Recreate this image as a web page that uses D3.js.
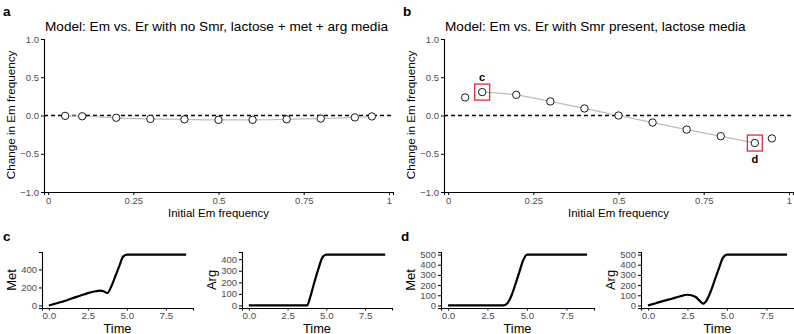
<!DOCTYPE html>
<html>
<head>
<meta charset="utf-8">
<script src="https://cdn.jsdelivr.net/npm/d3@7"></script>
<style>
  body { margin: 0; background: #fff; }
  svg { display: block; font-family: "Liberation Sans", Arial, sans-serif; }
  .tick text { fill: #4d4d4d; }
  .domain, .tick line { stroke: #000; }
</style>
</head>
<body>
<svg id="fig" width="794" height="334"></svg>
<script>
// top panels: change in Em frequency vs initial frequency
var freqs = [0.05, 0.1, 0.2, 0.3, 0.4, 0.5, 0.6, 0.7, 0.8, 0.9, 0.95];
var changeA = [-0.005, -0.01, -0.03, -0.045, -0.05, -0.057, -0.057, -0.05, -0.04, -0.025, -0.012];
var changeB = [0.236, 0.306, 0.27, 0.184, 0.092, 0.0, -0.092, -0.184, -0.27, -0.36, -0.30];
var xTicksTop = [0, 0.25, 0.5, 0.75, 1];
var xTickLabelsTop = ["0", "0.25", "0.5", "0.75", "1"];
var yTicksTop = [1, 0.5, 0, -0.5, -1];
var yTickLabelsTop = ["1.0", "0.5", "0.0", "\u22120.5", "\u22121.0"];
var highlighted = [{x: 0.1, label: "c", side: "top"}, {x: 0.9, label: "d", side: "bottom"}];

// bottom panels: metabolite time courses
var timeC = [0, 0.5, 1, 1.5, 2, 2.5, 3, 3.3, 3.5, 3.75, 4, 4.25, 4.5, 4.75, 5, 6, 7, 8, 8.8];
var metC  = [0, 25, 50, 80, 108, 137, 158, 165, 158, 138, 210, 320, 430, 540, 565, 565, 565, 565, 565];
var argC  = [0, 0, 0, 0, 0, 0, 0, 0, 0, 0, 90, 210, 320, 415, 440, 440, 440, 440, 440];
var timeD = [0, 0.5, 1, 1.5, 2, 2.5, 3, 3.25, 3.5, 3.75, 4, 4.25, 4.5, 4.75, 5, 6, 7, 8, 8.8];
var metD  = [0, 0, 0, 0, 0, 0, 0, 0, 0, 20, 90, 200, 320, 440, 500, 500, 500, 500, 500];
var argD  = [0, 22, 45, 66, 88, 105, 85, 50, 18, 60, 150, 260, 370, 470, 500, 500, 500, 500, 500];
var timeTicks = [0, 2.5, 5, 7.5];

var svg = d3.select("#fig");

function topPanel(left, right, title, letter, ys, lineFrom, lineTo, boxes) {
  var g = svg.append("g");
  var x = d3.scaleLinear().domain([-0.012, 1.012]).range([left, right]);
  var y = d3.scaleLinear().domain([-1, 1]).range([192, 39]);

  g.append("text").attr("x", left - 41).attr("y", 16)
    .attr("font-size", 13.5).attr("font-weight", "bold").text(letter);
  g.append("text").attr("x", left + 1).attr("y", 31)
    .attr("font-size", 13.6).attr("fill", "#000").text(title);

  // dashed zero line
  g.append("line").attr("x1", x.range()[0]).attr("x2", x.range()[1])
    .attr("y1", y(0)).attr("y2", y(0))
    .attr("stroke", "#000").attr("stroke-width", 1.3).attr("stroke-dasharray", "4,3");

  var pts = freqs.map(function(f, i){ return {x: f, y: ys[i]}; });
  var linePts = pts.filter(function(d){ return d.x >= lineFrom && d.x <= lineTo; });
  var line = d3.line().curve(d3.curveMonotoneX)
    .x(function(d){ return x(d.x); }).y(function(d){ return y(d.y); });
  g.append("path").attr("d", line(linePts)).attr("fill", "none")
    .attr("stroke", "#bdbdbd").attr("stroke-width", 1.2);

  g.selectAll("circle").data(pts).enter().append("circle")
    .attr("cx", function(d){ return x(d.x); }).attr("cy", function(d){ return y(d.y); })
    .attr("r", 3.7).attr("fill", "#fff").attr("stroke", "#000").attr("stroke-width", 0.9);

  boxes.forEach(function(b){
    var i = freqs.indexOf(b.x);
    var cx = x(b.x), cy = y(ys[i]);
    g.append("rect").attr("x", cx - 7.5).attr("y", cy - 8).attr("width", 15).attr("height", 16)
      .attr("fill", "none").attr("stroke", "#e8283a").attr("stroke-width", 1.3);
    g.append("text").attr("x", cx).attr("y", b.side == "top" ? cy - 11 : cy + 20)
      .attr("text-anchor", "middle").attr("font-size", 11).attr("font-weight", "bold").text(b.label);
  });

  var xAxis = d3.axisBottom(x).tickValues(xTicksTop).tickSizeOuter(0).tickSize(3).tickPadding(2)
    .tickFormat(function(d, i){ return xTickLabelsTop[i]; });
  var gx = g.append("g").attr("transform", "translate(0,192)").call(xAxis);
  gx.selectAll("text").attr("font-size", 9.5);

  var yAxis = d3.axisLeft(y).tickValues(yTicksTop).tickSizeOuter(0).tickSize(3).tickPadding(2)
    .tickFormat(function(d, i){ return yTickLabelsTop[i]; });
  var gy = g.append("g").attr("transform", "translate(" + left + ",0)").call(yAxis);
  gy.selectAll("text").attr("font-size", 9.5);
  [gx, gy].forEach(function(a){ a.select(".domain").attr("stroke-width", 1.1); });

  g.append("text").attr("x", (left + right) / 2).attr("y", 217)
    .attr("text-anchor", "middle").attr("font-size", 11.5).text("Initial Em frequency");
  g.append("text").attr("transform", "translate(" + (left - 29.5) + ",115) rotate(-90)")
    .attr("text-anchor", "middle").attr("font-size", 11.7).text("Change in Em frequency");
}

function miniPlot(left, right, times, vals, yTicks, ylab) {
  var g = svg.append("g");
  var ymax = d3.max(vals);
  var x = d3.scaleLinear().domain([-0.44, 9.24]).range([left, right]);
  var y = d3.scaleLinear().domain([-ymax * 0.05, ymax * 1.05]).range([308, 252]);
  var line = d3.line().curve(d3.curveMonotoneX)
    .x(function(d){ return x(d[0]); }).y(function(d){ return y(d[1]); });
  g.append("path").attr("d", line(d3.zip(times, vals))).attr("fill", "none")
    .attr("stroke", "#000").attr("stroke-width", 2.2).attr("stroke-linejoin", "round");

  var gx = g.append("g").attr("transform", "translate(0,308)")
    .call(d3.axisBottom(x).tickValues(timeTicks).tickSizeOuter(0).tickSize(2.5).tickPadding(1.5)
      .tickFormat(d3.format(".1f")));
  gx.selectAll("text").attr("font-size", 9.8);
  var gy = g.append("g").attr("transform", "translate(" + left + ",0)")
    .call(d3.axisLeft(y).tickValues(yTicks).tickSizeOuter(0).tickSize(3).tickPadding(2));
  gy.selectAll("text").attr("font-size", 9.5);
  [gx, gy].forEach(function(a){ a.select(".domain").attr("stroke-width", 1.1); });

  g.append("text").attr("x", (left + right) / 2).attr("y", 333)
    .attr("text-anchor", "middle").attr("font-size", 12.8).text("Time");
  g.append("text").attr("transform", "translate(" + (left - 26) + ",280) rotate(-90)")
    .attr("text-anchor", "middle").attr("font-size", 13).text(ylab);
}

topPanel(44, 393, "Model: Em vs. Er with no Smr, lactose + met + arg media", "a", changeA, 0.05, 0.95, []);
topPanel(444, 793, "Model: Em vs. Er with Smr present, lactose media", "b", changeB, 0.1, 0.9, highlighted);

svg.append("text").attr("x", 3).attr("y", 241).attr("font-size", 13.5).attr("font-weight", "bold").text("c");
svg.append("text").attr("x", 401).attr("y", 241).attr("font-size", 13.5).attr("font-weight", "bold").text("d");
miniPlot(42, 193, timeC, metC, [0, 200, 400], "Met");
miniPlot(242, 392, timeC, argC, [0, 100, 200, 300, 400], "Arg");
miniPlot(441, 594, timeD, metD, [0, 100, 200, 300, 400, 500], "Met");
miniPlot(641, 794, timeD, argD, [0, 100, 200, 300, 400, 500], "Arg");
</script>
</body>
</html>
